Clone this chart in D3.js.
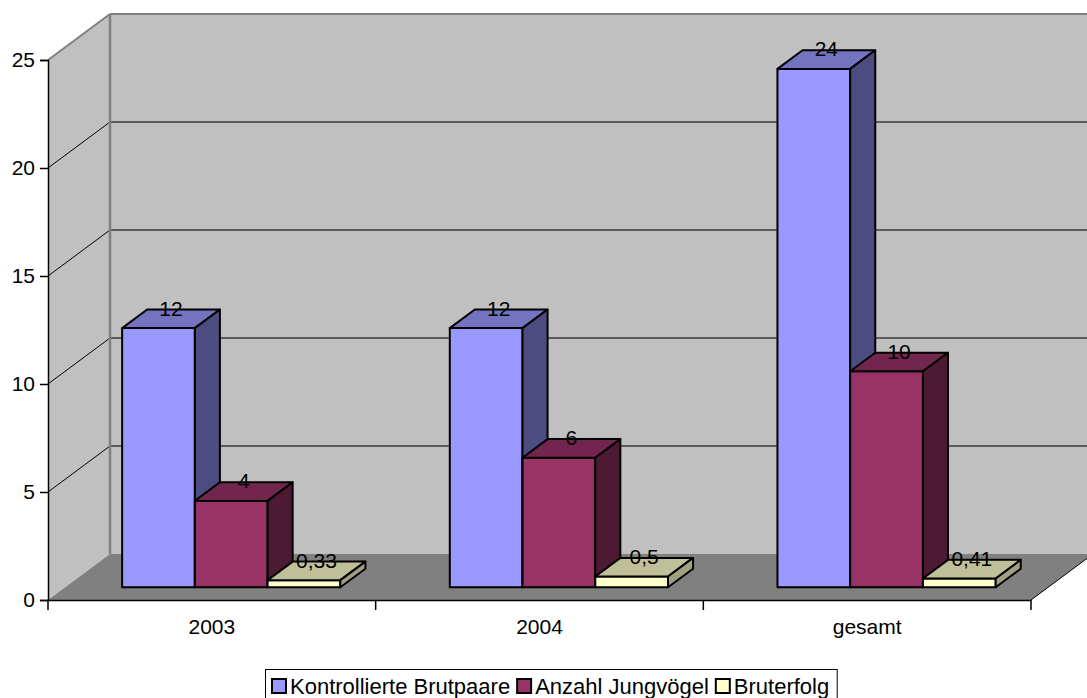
<!DOCTYPE html>
<html>
<head>
<meta charset="UTF-8">
<title></title>
<style>
  body { margin: 0; background: #fff; }
  text { font-family: "Liberation Sans", Arial, sans-serif; fill: #000; }
</style>
</head>
<body>
<div id="chart"></div>
<script src="https://cdn.jsdelivr.net/npm/d3@7"></script>
<script>
// data
var categories = ["2003", "2004", "gesamt"];
var seriesNames = ["Kontrollierte Brutpaare", "Anzahl Jungvögel", "Bruterfolg"];
var brutpaare = [12, 12, 24];
var jungvoegel = [4, 6, 10];
var bruterfolg = [0.33, 0.5, 0.41];
var yTicks = [0, 5, 10, 15, 20, 25];

var seriesValues = [brutpaare, jungvoegel, bruterfolg];
var colors = [
    { front: "#9999FF", top: "#7373BF", side: "#4C4C80" },
    { front: "#993366", top: "#73264D", side: "#4D1A33" },
    { front: "#FFFFCC", top: "#BFBF99", side: "#A0A080" }
];

var width = 1087, height = 698;
var DX = 62, DY = 46;       // full depth of the 3d box
var F0 = 0.276, F1 = 0.68;  // bar depth, front and back

var de = d3.formatLocale({ decimal: ",", thousands: ".", grouping: [3], currency: ["", " €"] });
var fmt = de.format("~g");

var svg = d3.select("#chart").append("svg")
    .attr("width", width)
    .attr("height", height);

var y = d3.scaleLinear().domain([0, 25]).range([600, 60]);
var x0 = d3.scaleBand().domain(categories).range([48, 1031]);
var barW = x0.bandwidth() * 0.222;
var inset = x0.bandwidth() * 0.174;
var x1 = d3.scaleBand().domain(seriesNames).range([inset, inset + barW * 3]);

var proj = function(x, v, f) {
    return [x + DX * f, y(v) - DY * f];
};
var poly = function(pts) {
    return d3.line()(pts) + "Z";
};

var xl = x0.range()[0], xr = x0.range()[1];

// side wall
svg.append("path")
    .attr("d", poly([proj(xl, 0, 0), proj(xl, 25, 0), proj(xl, 25, 1), proj(xl, 0, 1)]))
    .attr("fill", "#C0C0C0");
// back wall
svg.append("path")
    .attr("d", poly([proj(xl, 0, 1), proj(xl, 25, 1), proj(xr, 25, 1), proj(xr, 0, 1)]))
    .attr("fill", "#C0C0C0");
// floor
svg.append("path")
    .attr("d", poly([proj(xl, 0, 0), proj(xr, 0, 0), proj(xr, 0, 1), proj(xl, 0, 1)]))
    .attr("fill", "#808080");

// gridlines
var grid = svg.append("g");
yTicks.slice(1).forEach(function(v) {
    var last = v === 25;
    grid.append("path")
        .attr("d", d3.line()([proj(xl, v, 0), proj(xl, v, 1)]))
        .attr("stroke", last ? "#808080" : "#000")
        .attr("stroke-width", last ? 2 : 1)
        .attr("fill", "none");
    grid.append("path")
        .attr("d", d3.line()([proj(xl, v, 1), proj(xr, v, 1)]))
        .attr("stroke", last ? "#808080" : "#3a3a3a")
        .attr("stroke-width", last ? 2 : 1.3)
        .attr("fill", "none");
});
grid.append("path")
    .attr("d", d3.line()([proj(xl, 0, 1), proj(xl, 25, 1)]))
    .attr("stroke", "#808080")
    .attr("stroke-width", 2.5);
grid.append("path")
    .attr("d", d3.line()([proj(xr, 0, 0), proj(xr, 0, 1)]))
    .attr("stroke", "#000")
    .attr("stroke-width", 1);

// y axis
var yAxis = svg.append("g")
    .attr("transform", "translate(" + xl + ",0)")
    .call(d3.axisLeft(y).tickValues(yTicks).tickSize(8).tickPadding(5));
yAxis.select(".domain").attr("stroke", "#000").attr("stroke-width", 1.5);
yAxis.selectAll(".tick line").attr("stroke", "#000").attr("stroke-width", 1.5);
yAxis.selectAll("text").style("font-size", "21px").attr("font-family", null);

// x axis
var xAxis = svg.append("g")
    .attr("transform", "translate(0," + y(0) + ")")
    .call(d3.axisBottom(x0).tickSize(0).tickPadding(19));
xAxis.select(".domain").attr("stroke", "#000").attr("stroke-width", 1.5);
xAxis.selectAll("text").style("font-size", "21px").attr("font-family", null);
var bounds = categories.map(function(c) { return x0(c); }).concat([xr]);
xAxis.selectAll(".bound")
    .data(bounds)
    .join("line")
    .attr("x1", function(d) { return d; })
    .attr("x2", function(d) { return d; })
    .attr("y1", 0)
    .attr("y2", 10)
    .attr("stroke", "#000")
    .attr("stroke-width", 1.5);

// bars
var bars = [];
categories.forEach(function(c, i) {
    seriesNames.forEach(function(s, j) {
        bars.push({ cat: c, series: j, value: seriesValues[j][i], x: x0(c) + x1(s) });
    });
});

var g = svg.append("g").selectAll("g")
    .data(bars)
    .join("g");

g.append("path")
    .attr("d", function(d) {
        return poly([proj(d.x, 0, F0), proj(d.x + barW, 0, F0), proj(d.x + barW, d.value, F0), proj(d.x, d.value, F0)]);
    })
    .attr("fill", function(d) { return colors[d.series].front; })
    .attr("stroke", "#000")
    .attr("stroke-width", 2)
    .attr("stroke-linejoin", "round");

g.append("path")
    .attr("d", function(d) {
        return poly([proj(d.x, d.value, F0), proj(d.x + barW, d.value, F0), proj(d.x + barW, d.value, F1), proj(d.x, d.value, F1)]);
    })
    .attr("fill", function(d) { return colors[d.series].top; })
    .attr("stroke", "#000")
    .attr("stroke-width", 2)
    .attr("stroke-linejoin", "round");

g.append("path")
    .attr("d", function(d) {
        return poly([proj(d.x + barW, 0, F0), proj(d.x + barW, 0, F1), proj(d.x + barW, d.value, F1), proj(d.x + barW, d.value, F0)]);
    })
    .attr("fill", function(d) { return colors[d.series].side; })
    .attr("stroke", "#000")
    .attr("stroke-width", 2)
    .attr("stroke-linejoin", "round");

g.append("text")
    .attr("x", function(d) { return proj(d.x + barW / 2, d.value, (F0 + F1) / 2)[0]; })
    .attr("y", function(d) { return proj(d.x, d.value, F1)[1] + 6; })
    .attr("text-anchor", "middle")
    .style("font-size", "21px")
    .text(function(d) { return fmt(d.value); });

// legend
var legend = svg.append("g");
var box = legend.append("rect")
    .attr("x", 265.5)
    .attr("y", 669.5)
    .attr("height", 40)
    .attr("fill", "#fff")
    .attr("stroke", "#000")
    .attr("stroke-width", 1);
var lx = 272;
seriesNames.forEach(function(s, j) {
    legend.append("rect")
        .attr("x", lx)
        .attr("y", 679)
        .attr("width", 14)
        .attr("height", 14)
        .attr("fill", colors[j].front)
        .attr("stroke", "#000")
        .attr("stroke-width", 2);
    var t = legend.append("text")
        .attr("x", lx + 18)
        .attr("y", 694)
        .style("font-size", "22px")
        .text(s);
    lx = lx + 18 + t.node().getComputedTextLength() + 7;
});
box.attr("width", lx + 1 - 265.5);
</script>
</body>
</html>
